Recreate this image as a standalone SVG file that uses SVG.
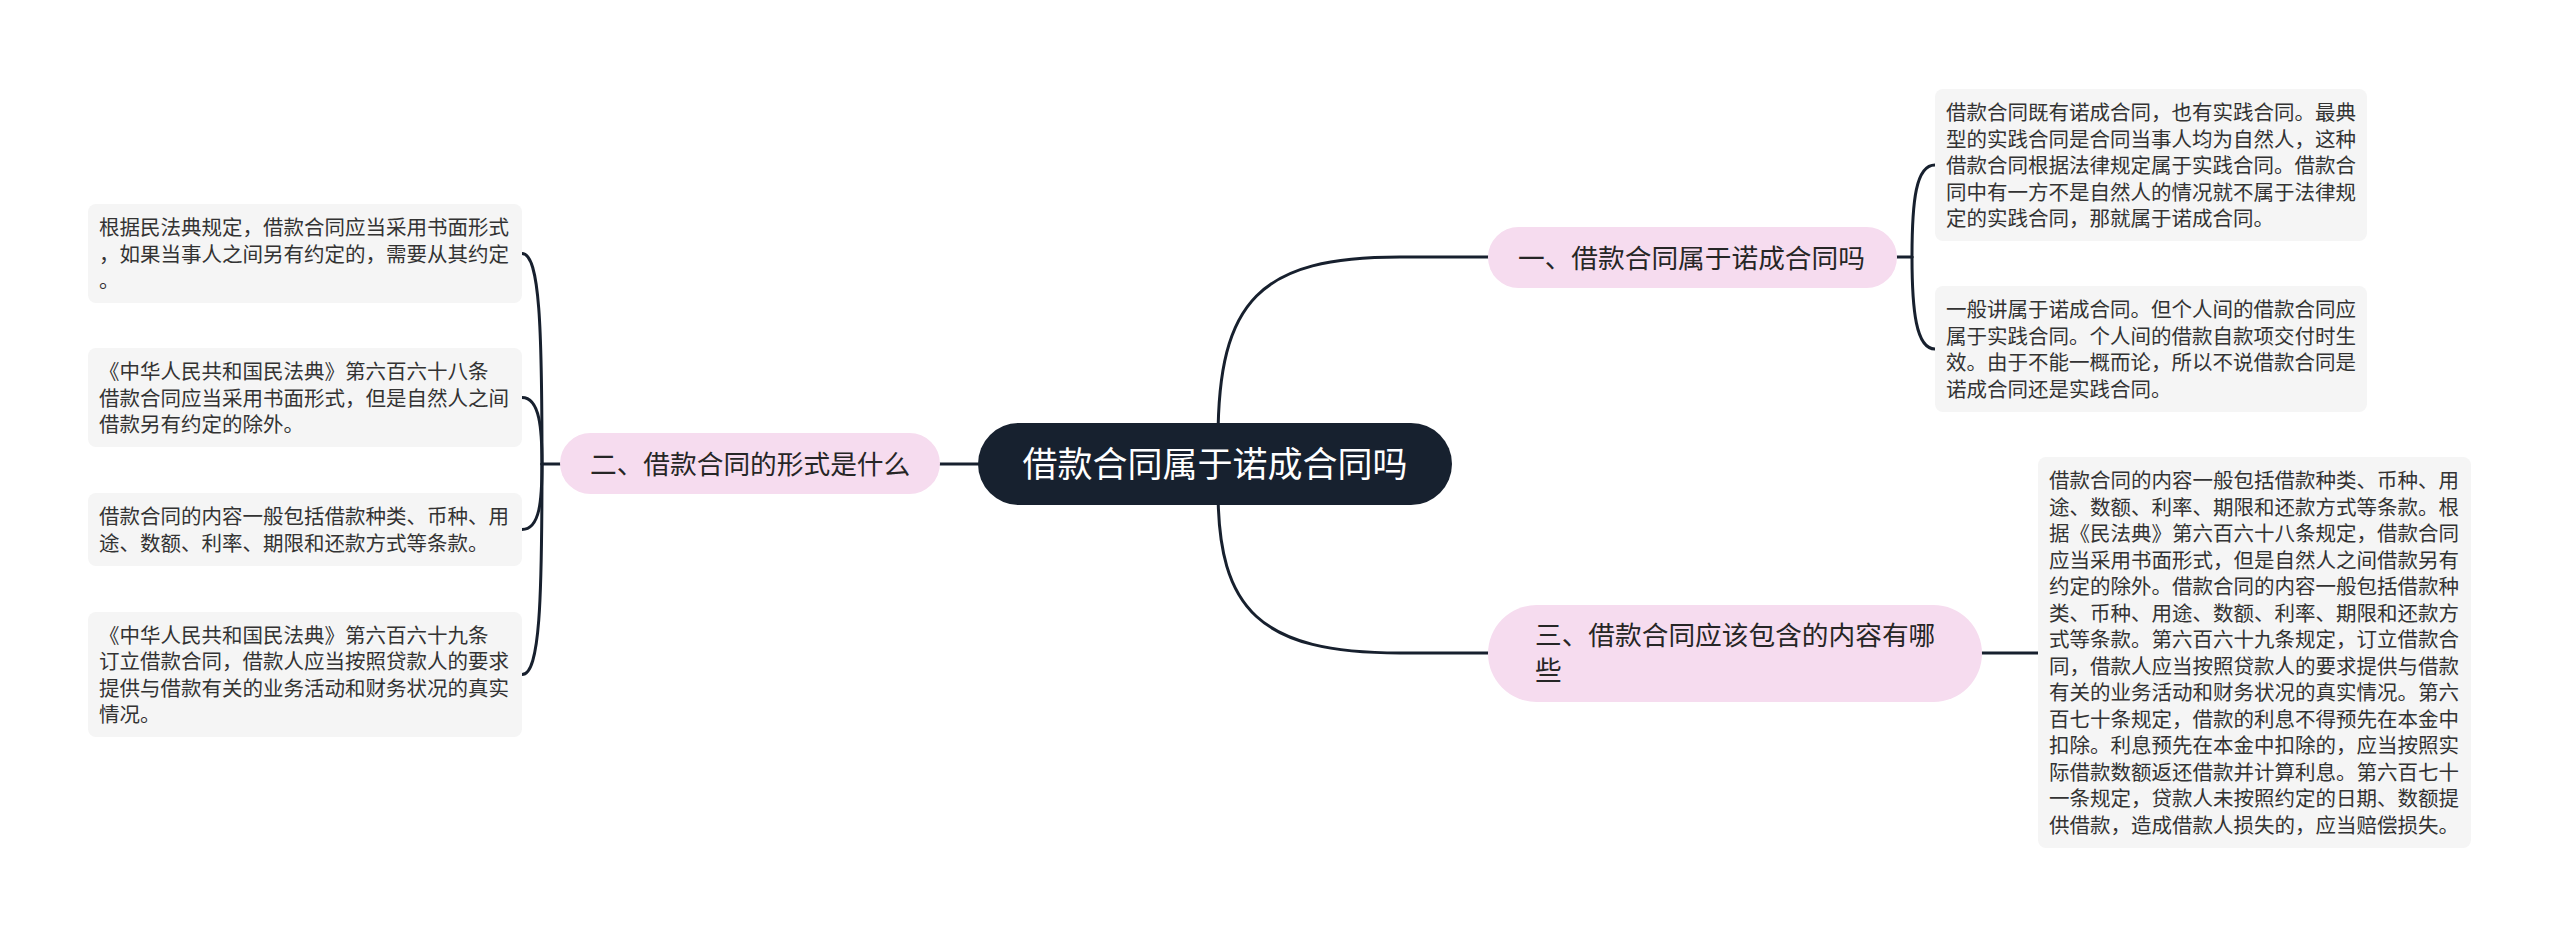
<svg xmlns="http://www.w3.org/2000/svg" width="2560" height="938" viewBox="0 0 2560 938">
<style>
.bg{fill:#ffffff}
.conn{fill:none;stroke:#17202e;stroke-width:3;stroke-linecap:round}
.root{fill:#17212f}
.sub{fill:#f6dcef}
.leaf{fill:#f5f5f5}
.rt{font-family:"Noto Sans CJK SC","Noto Sans",sans-serif;font-size:35px;fill:#ffffff}
.st{font-family:"Noto Sans CJK SC","Noto Sans",sans-serif;font-size:26.7px;fill:#262626}
.lt{font-family:"Noto Sans CJK SC","Noto Sans",sans-serif;font-size:20.5px;fill:#333333}
</style>
<rect class="bg" x="0" y="0" width="2560" height="938"/>
<g id="connectors">
<path class="conn" d="M1218,440 C1218,300 1260,257 1400,257 L1488,257"/>
<path class="conn" d="M1218,490 C1218,610 1260,653 1400,653 L1488,653"/>
<path class="conn" d="M978,464 L940,464"/>
<path class="conn" d="M1897,257 L1912,257"/>
<path class="conn" d="M1912,257 C1912,200 1916,165 1935,165"/>
<path class="conn" d="M1912,257 C1912,310 1916,349 1935,349"/>
<path class="conn" d="M1982,653 L2038,653"/>
<path class="conn" d="M560,464 L542,464"/>
<path class="conn" d="M542,464 C542,330 540,253.5 522,253.5"/>
<path class="conn" d="M542,464 C542,430 540,397.5 522,397.5"/>
<path class="conn" d="M542,464 C542,500 540,529.5 522,529.5"/>
<path class="conn" d="M542,464 C542,600 540,674.5 522,674.5"/>
</g>
<g id="root">
<rect class="root" x="978" y="423" width="474" height="82" rx="41"/>
<text class="rt" x="1215" y="477" text-anchor="middle">借款合同属于诺成合同吗</text>
</g>
<g id="node1">
<rect class="sub" x="1488" y="227" width="409" height="61" rx="30.5"/>
<text class="st" x="1518" y="267.5">一、借款合同属于诺成合同吗</text>
</g>
<g id="node2">
<rect class="sub" x="560" y="433" width="380" height="61" rx="30.5"/>
<text class="st" x="590" y="473.5">二、借款合同的形式是什么</text>
</g>
<g id="node3">
<rect class="sub" x="1488" y="605" width="494" height="97" rx="48.5"/>
<text class="st"><tspan x="1535" y="645">三、借款合同应该包含的内容有哪</tspan><tspan x="1535" y="680">些</tspan></text>
</g>
<g id="leaf-r1">
<rect class="leaf" x="1935" y="89" width="432" height="152" rx="8"/>
<text class="lt"><tspan x="1946" y="120">借款合同既有诺成合同，也有实践合同。最典</tspan><tspan x="1946" y="146.5">型的实践合同是合同当事人均为自然人，这种</tspan><tspan x="1946" y="173">借款合同根据法律规定属于实践合同。借款合</tspan><tspan x="1946" y="199.5">同中有一方不是自然人的情况就不属于法律规</tspan><tspan x="1946" y="226">定的实践合同，那就属于诺成合同。</tspan></text>
</g>
<g id="leaf-r2">
<rect class="leaf" x="1935" y="286" width="432" height="126" rx="8"/>
<text class="lt"><tspan x="1946" y="317.25">一般讲属于诺成合同。但个人间的借款合同应</tspan><tspan x="1946" y="343.75">属于实践合同。个人间的借款自款项交付时生</tspan><tspan x="1946" y="370.25">效。由于不能一概而论，所以不说借款合同是</tspan><tspan x="1946" y="396.75">诺成合同还是实践合同。</tspan></text>
</g>
<g id="leaf-r3">
<rect class="leaf" x="2038" y="457" width="433" height="391" rx="8"/>
<text class="lt"><tspan x="2049" y="488.25">借款合同的内容一般包括借款种类、币种、用</tspan><tspan x="2049" y="514.75">途、数额、利率、期限和还款方式等条款。根</tspan><tspan x="2049" y="541.25">据《民法典》第六百六十八条规定，借款合同</tspan><tspan x="2049" y="567.75">应当采用书面形式，但是自然人之间借款另有</tspan><tspan x="2049" y="594.25">约定的除外。借款合同的内容一般包括借款种</tspan><tspan x="2049" y="620.75">类、币种、用途、数额、利率、期限和还款方</tspan><tspan x="2049" y="647.25">式等条款。第六百六十九条规定，订立借款合</tspan><tspan x="2049" y="673.75">同，借款人应当按照贷款人的要求提供与借款</tspan><tspan x="2049" y="700.25">有关的业务活动和财务状况的真实情况。第六</tspan><tspan x="2049" y="726.75">百七十条规定，借款的利息不得预先在本金中</tspan><tspan x="2049" y="753.25">扣除。利息预先在本金中扣除的，应当按照实</tspan><tspan x="2049" y="779.75">际借款数额返还借款并计算利息。第六百七十</tspan><tspan x="2049" y="806.25">一条规定，贷款人未按照约定的日期、数额提</tspan><tspan x="2049" y="832.75">供借款，造成借款人损失的，应当赔偿损失。</tspan></text>
</g>
<g id="leaf-l1">
<rect class="leaf" x="88" y="204" width="434" height="99" rx="8"/>
<text class="lt"><tspan x="99" y="235">根据民法典规定，借款合同应当采用书面形式</tspan><tspan x="99" y="261.5">，如果当事人之间另有约定的，需要从其约定</tspan><tspan x="99" y="288">。</tspan></text>
</g>
<g id="leaf-l2">
<rect class="leaf" x="88" y="348" width="434" height="99" rx="8"/>
<text class="lt"><tspan x="99" y="379">《中华人民共和国民法典》第六百六十八条</tspan><tspan x="99" y="405.5">借款合同应当采用书面形式，但是自然人之间</tspan><tspan x="99" y="432">借款另有约定的除外。</tspan></text>
</g>
<g id="leaf-l3">
<rect class="leaf" x="88" y="493" width="434" height="73" rx="8"/>
<text class="lt"><tspan x="99" y="524.25">借款合同的内容一般包括借款种类、币种、用</tspan><tspan x="99" y="550.75">途、数额、利率、期限和还款方式等条款。</tspan></text>
</g>
<g id="leaf-l4">
<rect class="leaf" x="88" y="612" width="434" height="125" rx="8"/>
<text class="lt"><tspan x="99" y="642.75">《中华人民共和国民法典》第六百六十九条</tspan><tspan x="99" y="669.25">订立借款合同，借款人应当按照贷款人的要求</tspan><tspan x="99" y="695.75">提供与借款有关的业务活动和财务状况的真实</tspan><tspan x="99" y="722.25">情况。</tspan></text>
</g>
</svg>
